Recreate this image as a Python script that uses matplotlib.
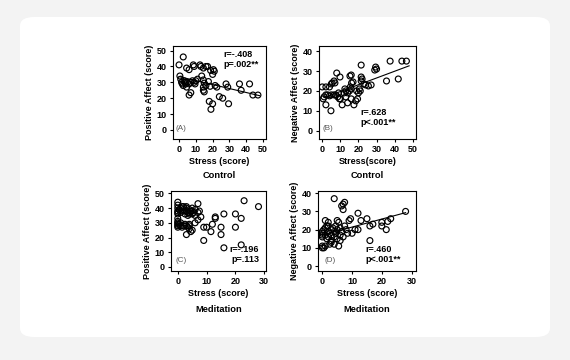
import matplotlib
matplotlib.use("Agg")
import matplotlib.pyplot as plt
from matplotlib.patches import FancyBboxPatch
import numpy as np

plt.rcParams['font.family'] = ['Liberation Sans', 'DejaVu Sans']

# ---------------- data ----------------
A_stress = [0, 2.5, 4.5, 6, 8.5, 9, 12.5, 13, 14.5, 16, 17, 18.8, 20.5, 21, 20,
            0.5, 1, 1.5, 2, 2.5, 3, 3.5, 4, 4.5, 5, 6, 7, 8, 9, 9.5, 10, 11,
            13.5, 14.5, 15, 14.5, 14.5, 15, 16, 17.5, 18.5, 21.5, 22.5,
            6, 7, 18, 20, 19, 24, 26, 29.5, 28, 29, 36, 37, 42, 44, 47]
A_pos = [41, 46, 39, 38, 41, 40, 41, 40, 39, 40, 40, 37.5, 38, 37, 35,
         34, 32, 30, 29, 28, 31, 30, 29, 27, 30, 29, 30, 31, 30, 29, 31, 32,
         34, 31.5, 29.5, 27, 25, 24, 28, 30.5, 27.5, 28, 27,
         22, 23.5, 18, 16.5, 13, 21, 20, 16.5, 29, 27, 29, 25, 29, 22, 22]

B_stress = [0, 2, 4, 5, 5.5, 6.5, 7, 8, 9.8, 16, 21.5, 21.5, 22, 21.5, 29.5, 30, 29,
            37.5, 44, 46.5, 35.5, 42, 25.5, 27,
            0.5, 1, 2, 3, 2, 4.8, 4, 5, 6.5, 7.5, 9, 8.5, 9.5, 10, 11, 12, 13, 14,
            14, 15, 16, 15.5, 16, 17.5, 18.5, 19.5, 20, 20.5, 21, 23, 24, 19, 13,
            16.2, 17, 12.5, 15.3]
B_neg = [22, 22, 22, 23.5, 24, 25, 24, 29, 27, 28, 33, 27, 26, 25, 32, 31, 30.5,
         35, 35, 35, 25, 26, 22.5, 23,
         16, 17, 18, 18, 13, 10, 17.5, 18, 18, 18, 19, 17, 16, 16, 13, 19, 20, 19,
         14, 20, 21, 22, 16, 13, 15, 16, 19, 21, 20, 23.5, 23, 20, 17,
         24, 24.5, 21, 27.5]

C_stress = [0, 0, 0, 0, 0, 0, 0.5, 1, 1, 1.5, 2, 2, 2, 2.5, 3, 3, 3, 3.5, 3.5, 4, 4,
            4, 4.5, 5, 5, 5, 5.5, 6, 6, 7, 7, 7.5, 7, 8, 6,
            0, 0, 0, 0, 0, 0, 0.5, 1, 1, 1.5, 2, 2.5, 3, 3.5, 4, 4, 4, 3, 4.5, 5,
            9, 10, 12, 11.5, 13, 13, 15, 15, 16, 20, 22, 20, 23, 28, 9, 16, 22]
C_pos = [44, 42, 40, 38, 37, 36, 39, 40, 37, 41, 41, 39, 38, 36, 41, 40, 38, 37, 35, 39, 37,
         36, 38, 40, 38, 36, 37, 39, 35, 43, 37, 38, 32, 34, 30,
         33, 31, 30, 29, 28, 27, 29, 28, 30, 27, 28, 29, 28, 27, 29, 28, 26, 22, 24, 25,
         27, 27, 29, 24, 33, 34, 27, 22, 36, 36, 33, 27, 45, 41, 18, 13, 15]

D_stress = [4, 7.5, 6.5, 7, 7, 12, 9, 9.5, 28, 23, 22, 20, 21.5, 20, 15, 16, 13, 12, 17,
            16, 1, 5, 5.5, 10, 11,
            0, 0, 0, 0, 0.5, 1, 1, 1.5, 2, 2, 2, 2.5, 3, 3, 3, 3.5, 4, 4, 4.5, 4.5, 5,
            5, 6, 6, 6.5, 7, 7.5, 8, 8.5, 3, 2.5, 5.5, 4, 0, 0.5, 0, 1, 6, 1.5, 2]
D_neg = [37, 35, 33, 31, 34, 29, 25, 26, 30, 26, 24.5, 24, 20, 22, 26, 22, 25, 20, 23,
         14, 25, 25, 24, 18, 20,
         18, 17, 16, 19, 20, 21, 17, 15, 22, 19, 16, 18, 20, 17, 14, 21, 19, 16, 22, 18, 15,
         20, 21, 17, 19, 16, 22, 20, 18, 13, 12, 11, 12, 11, 10, 10, 11, 14, 22, 24]

# regression fits (intercept, slope, x-start, x-end)
fit_A = [33.6, -0.25, 0, 48]
fit_B = [16.3, 0.34, 1, 48]
fit_D = [17.0, 0.44, 0, 28]

stats_A = ["r=-.408", "p=.002**"]
stats_B = ["r=.628", "p<.001**"]
stats_C = ["r=-.196", "p=.113"]
stats_D = ["r=.460", "p<.001**"]

# ---------------- figure ----------------
W, H = 570, 360
fig = plt.figure(figsize=(W / 100, H / 100), dpi=100)
fig.patch.set_facecolor('#f3f3f3')

card = FancyBboxPatch((20 / W, 1 - 337 / H), 530 / W, 320 / H,
                      boxstyle="round,pad=0,rounding_size=0.025",
                      transform=fig.transFigure, facecolor='white',
                      edgecolor='none', zorder=-5)
fig.patches.append(card)

FS = 6.5
def px(l, t, r, b):
    return [l / W, 1 - b / H, (r - l) / W, (b - t) / H]

def panel(rect, x, y, xlim, ylim, xticks, yticks, xlabel, ylabel, title,
          letter, stats, stats_pos, stats_ha, fit, letter_pos, title_y, xlabpad):
    ax = fig.add_axes(px(*rect))
    ax.set_zorder(2)
    ax.scatter(x, y, s=18, facecolors='none', edgecolors='black',
               linewidths=0.85, zorder=3)
    if fit is not None:
        xs = np.array([fit[2], fit[3]])
        ax.plot(xs, fit[0] + fit[1] * xs, color='black', lw=0.8, zorder=2)
    ax.set_xlim(*xlim)
    ax.set_ylim(*ylim)
    ax.set_xticks(xticks)
    ax.set_yticks(yticks)
    for s in ax.spines.values():
        s.set_linewidth(0.8)
    ax.tick_params(length=2.5, width=0.8, labelsize=FS, pad=2)
    for lab in ax.get_xticklabels() + ax.get_yticklabels():
        lab.set_fontweight('bold')
    ax.set_xlabel(xlabel, fontsize=FS, fontweight='bold', labelpad=xlabpad)
    ax.set_ylabel(ylabel, fontsize=FS, fontweight='bold', labelpad=2)
    ax.text(letter_pos[0], letter_pos[1], letter, transform=ax.transAxes,
            fontsize=5.8, color='#555555', va='center', ha='left')
    ax.text(stats_pos[0], stats_pos[1], stats[0] + "\n" + stats[1],
            transform=ax.transAxes, fontsize=FS, fontweight='bold',
            va='top', ha=stats_ha, linespacing=1.15, multialignment=stats_ha)
    cx = (rect[0] + rect[2]) / 2
    fig.text(cx / W, 1 - title_y / H, title, fontsize=6.7, fontweight='bold',
             ha='center', va='center', zorder=3)
    return ax

panel((173, 46, 266, 139), A_stress, A_pos, (-3.6, 51.8), (-5.7, 52.9),
      [0, 10, 20, 30, 40, 50], [0, 10, 20, 30, 40, 50],
      "Stress (score)", "Positive Affect (score)", "Control", "(A)",
      stats_A, (0.54, 0.96), 'left', fit_A, (0.03, 0.11), 175, 2)
panel((319, 46, 416, 139), B_stress, B_neg, (-1.8, 51.8), (-4.2, 42.6),
      [0, 10, 20, 30, 40, 50], [0, 10, 20, 30, 40],
      "Stress(score)", "Negative Affect (score)", "Control", "(B)",
      stats_B, (0.43, 0.33), 'left', fit_B, (0.04, 0.11), 175, 2)
panel((171, 191, 266, 271), C_stress, C_pos, (-2.35, 30.6), (-2.75, 51.6),
      [0, 10, 20, 30], [0, 10, 20, 30, 40, 50],
      "Stress (score)", "Positive Affect (score)", "Meditation", "(C)",
      stats_C, (0.93, 0.33), 'right', None, (0.05, 0.13), 310, 2)
panel((318, 191, 416, 271), D_stress, D_neg, (-1.45, 31.5), (-2.7, 41.2),
      [0, 10, 20, 30], [0, 10, 20, 30, 40],
      "Stress (score)", "Negative Affect (score)", "Meditation", "(D)",
      stats_D, (0.48, 0.33), 'left', fit_D, (0.07, 0.13), 310, 2)

fig.savefig("out.png", dpi=100, facecolor=fig.get_facecolor())
